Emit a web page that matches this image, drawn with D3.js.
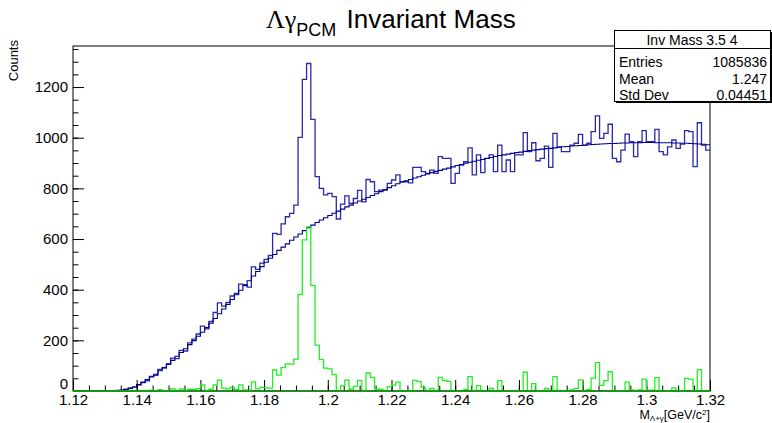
<!DOCTYPE html>
<html><head><meta charset="utf-8">
<script src="https://cdn.jsdelivr.net/npm/d3@7"></script>
<style>
body{margin:0;background:#fff}
svg{display:block}
text{font-family:"Liberation Sans",Arial,Helvetica,sans-serif;fill:#000}
</style>
</head><body>
<svg id="c" width="772" height="423"></svg>
<script>
// ---- data ----
const binLow = 1.12, binHigh = 1.32;
const counts = [
  0,0,0,0,0,0,0,0,0,0,
  2,3,7,12,15,24,33,40,58,62,
  85,90,105,130,128,160,158,190,205,225,
  256,245,275,310,348,335,350,375,385,422,
  420,410,490,480,505,520,535,622,618,660,
  688,701,734,1001,1230,1293,1072,846,800,774,
  780,767,679,738,770,741,760,792,747,835,
  826,787,793,793,820,833,853,826,826,822,
  883,883,866,859,872,859,925,918,918,820,
  859,892,905,960,853,932,862,918,932,866,
  971,866,912,866,932,932,1020,945,980,909,
  918,967,883,1017,964,945,945,971,978,1013,
  971,978,1024,1086,997,1017,1053,918,905,951,
  1014,984,925,984,1028,984,984,1033,945,932,
  964,991,958,975,1028,1024,886,1059,971,951
];
const background = [
  0,0,0,0,0,0,0,0,0,0,
  1,3,6,10,16,25,35,45,55,66,
  80,93,107,121,137,152,167,183,199,216,
  232,250,268,286,305,324,342,361,380,398,
  416,435,454,472,491,508,524,539,555,568,
  581,595,608,620,633,645,655,665,675,684,
  693,702,710,718,727,734,742,750,757,764,
  772,779,787,795,803,810,818,825,830,835,
  841,846,852,857,862,867,871,876,880,885,
  890,894,899,903,907,911,914,918,922,926,
  930,932,935,938,941,943,946,949,951,953,
  955,957,958,960,962,964,965,967,968,969,
  970,972,973,974,975,976,977,977,978,979,
  979,980,980,980,981,981,981,980,980,980,
  980,979,979,978,978,977,976,975,974,972
];
const signal = [
  0,0,0,0,0,0,0,0,0,0,
  1,0,1,2,0,0,0,0,3,0,
  5,0,0,9,0,8,0,7,6,9,
  24,0,7,24,43,11,8,14,5,24,
  4,0,36,8,14,12,11,83,63,92,
  107,106,126,381,597,648,417,181,125,90,
  87,65,0,20,43,7,18,42,0,71,
  54,8,6,0,17,23,35,1,0,0,
  42,37,14,2,10,0,54,42,38,0,
  0,0,6,57,0,21,0,0,10,0,
  41,0,0,0,0,0,74,0,29,0,
  0,10,0,57,2,0,0,4,10,44,
  1,6,51,112,22,41,76,0,0,0,
  35,4,0,4,47,3,3,53,0,0,
  0,12,0,0,50,47,0,84,0,0
];
const xTickValues = [1.12,1.14,1.16,1.18,1.20,1.22,1.24,1.26,1.28,1.30,1.32];
const yTickValues = [0,200,400,600,800,1000,1200];
const yMax = 1362;
const statsTitle = "Inv Mass 3.5 4";
const statsRows = [["Entries","1085836"],["Mean","1.247"],["Std Dev","0.04451"]];

// ---- layout ----
const L = 73, R = 710, T = 46, B = 391;
const svg = d3.select("#c");
const x = d3.scaleLinear().domain([binLow, binHigh]).range([L, R]);
const y = d3.scaleLinear().domain([0, yMax]).range([B, T]);

function stepPoints(arr){
  const n = arr.length, w = (binHigh - binLow) / n;
  const pts = arr.map((v,i)=>[binLow + i*w, v]);
  pts.push([binHigh, arr[n-1]]);
  return pts;
}
const line = d3.line().x(d=>x(d[0])).y(d=>y(d[1])).curve(d3.curveStepAfter);

// frame
svg.append("rect").attr("x",L).attr("y",T).attr("width",R-L).attr("height",B-T)
  .attr("fill","none").attr("stroke","#000").attr("stroke-width",1);

// histograms
svg.append("path").attr("d", line(stepPoints(counts)))
  .attr("fill","none").attr("stroke","#2a2aa8").attr("stroke-width",1.3);
svg.append("path").attr("d", line(stepPoints(background)))
  .attr("fill","none").attr("stroke","#00008c").attr("stroke-width",1.1);

// axes
const yAxis = d3.axisLeft(y).tickValues(yTickValues).tickSizeInner(-11).tickSizeOuter(0).tickPadding(5)
  .tickFormat(d3.format("d"));
const yMinor = d3.axisLeft(y).tickValues(d3.range(0, yMax, 50)).tickSizeInner(-5.5).tickSizeOuter(0).tickFormat("");
const xAxis = d3.axisBottom(x).tickValues(xTickValues).tickSizeInner(-11).tickSizeOuter(0).tickPadding(3)
  .tickFormat(d=>String(+d.toFixed(2)));
const xMinor = d3.axisBottom(x).tickValues(d3.range(0,41).map(i=>binLow+i*0.005)).tickSizeInner(-5.5).tickSizeOuter(0).tickFormat("");

function styleAxis(sel){
  sel.select(".domain").remove();
  sel.selectAll("line").attr("stroke","#000");
  sel.selectAll("text").attr("font-size",15).attr("font-family","Liberation Sans, Arial, sans-serif");
}
svg.append("g").attr("transform",`translate(${L},0)`).call(yMinor).call(styleAxis);
const yg = svg.append("g").attr("transform",`translate(${L},0)`).call(yAxis).call(styleAxis);
yg.selectAll(".tick").filter(d=>d===0).select("text").attr("dy","-0.15em");
svg.append("g").attr("transform",`translate(0,${B})`).call(xMinor).call(styleAxis);
svg.append("g").attr("transform",`translate(0,${B})`).call(xAxis).call(styleAxis);

// signal histogram on top, baseline over axis
svg.append("path").attr("d", line(stepPoints(signal)))
  .attr("fill","none").attr("stroke","#22ee22").attr("stroke-width",1.3);
svg.append("line").attr("x1",L).attr("x2",R).attr("y1",B).attr("y2",B)
  .attr("stroke","#0a8a0a").attr("stroke-width",1.3);

// title
const title = svg.append("text").attr("x",266).attr("y",28).attr("font-size",26);
title.append("tspan").text("Λγ").attr("font-family","Liberation Serif, DejaVu Serif, serif");
title.append("tspan").text("PCM").attr("font-size",18).attr("dy",8);
title.append("tspan").text(" Invariant Mass").attr("dy",-8).attr("dx",3);

// y title
svg.append("text").attr("transform","translate(18,40) rotate(-90)")
  .attr("text-anchor","end").attr("font-size",13).text("Counts");

// x title
const xt = svg.append("text").attr("x",710).attr("y",418.5).attr("text-anchor","end").attr("font-size",12.5);
xt.append("tspan").text("M");
xt.append("tspan").text("Λ+γ").attr("font-size",8).attr("dy",2);
xt.append("tspan").text("[GeV/c").attr("dy",-2);
xt.append("tspan").text("2").attr("font-size",8).attr("dy",-3.5);
xt.append("tspan").text("]").attr("dy",3.5);

// stats box
const sx = 614, sy = 30, sw = 156, sh = 71;
svg.append("rect").attr("x",sx+2).attr("y",sy+2).attr("width",sw).attr("height",sh).attr("fill","#000");
svg.append("rect").attr("x",sx+0.5).attr("y",sy+0.5).attr("width",sw).attr("height",sh)
  .attr("fill","#fff").attr("stroke","#000").attr("stroke-width",1);
svg.append("line").attr("x1",sx).attr("x2",sx+sw).attr("y1",sy+18.5).attr("y2",sy+18.5).attr("stroke","#000");
svg.append("text").attr("x",sx+sw/2).attr("y",sy+15).attr("text-anchor","middle").attr("font-size",14).text(statsTitle);
statsRows.forEach((r,i)=>{
  svg.append("text").attr("x",sx+5).attr("y",sy+37+i*16.7).attr("font-size",14).text(r[0]);
  svg.append("text").attr("x",sx+sw-3).attr("y",sy+37+i*16.7).attr("font-size",14).attr("text-anchor","end").text(r[1]);
});
</script>
</body></html>
